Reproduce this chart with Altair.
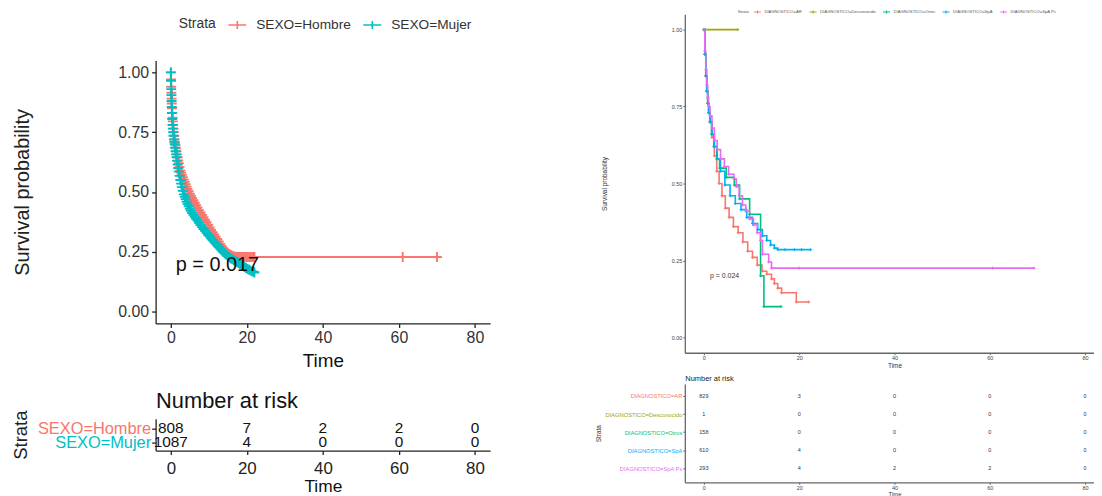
import json
import altair as alt
import pandas as pd

FONT = "Liberation Sans"
W, H = 1094, 488

TICKS = [0, 20, 40, 60, 80]
SURV_TICKS = [0, 0.25, 0.5, 0.75, 1.0]
X_DOMAIN = [-4, 84]
Y_DOMAIN = [-0.05, 1.05]

# ---------------- left panel (SEXO) ----------------
L_STRATA = ["SEXO=Hombre", "SEXO=Mujer"]
L_COLORS = ["#F8766D", "#00BFC4"]
L_T_MUJER = [0, 0.05, 0.1, 0.15, 0.2, 0.25, 0.3, 0.38, 0.45, 0.52,
             0.6, 0.7, 0.8, 0.9, 1.0, 1.12, 1.25, 1.38, 1.5, 1.65,
             1.8, 1.95, 2.1, 2.3, 2.5, 2.7, 2.9, 3.15, 3.4, 3.65,
             3.9, 4.15, 4.4, 4.7, 5.0, 5.3, 5.6, 5.95, 6.3, 6.65,
             7.0, 7.4, 7.8, 8.2, 8.6, 9.0, 9.4, 9.8, 10.2, 10.6,
             11.0, 11.4, 11.8, 12.2, 12.6, 13.0, 13.4, 13.8, 14.2, 14.6,
             15.0, 15.4, 15.8, 16.2, 16.6, 17.0, 17.4, 17.8, 18.2, 18.6,
             19.0, 19.4, 19.8, 20.2, 20.6, 21.0, 21.4, 21.8, 22.0]
L_S_MUJER = [1.00, 0.965, 0.93, 0.905, 0.88, 0.855, 0.83, 0.805, 0.78, 0.765,
             0.75, 0.735, 0.72, 0.71, 0.70, 0.685, 0.67, 0.657, 0.645, 0.63,
             0.615, 0.60, 0.585, 0.567, 0.55, 0.535, 0.52, 0.505, 0.49, 0.48,
             0.47, 0.459, 0.449, 0.44, 0.43, 0.421, 0.412, 0.404, 0.396, 0.388,
             0.38, 0.371, 0.362, 0.353, 0.345, 0.337, 0.329, 0.321, 0.314, 0.306,
             0.299, 0.291, 0.284, 0.277, 0.27, 0.263, 0.256, 0.249, 0.243, 0.237,
             0.231, 0.226, 0.222, 0.218, 0.214, 0.21, 0.207, 0.203, 0.199, 0.195,
             0.19, 0.186, 0.182, 0.178, 0.175, 0.171, 0.168, 0.165, 0.163]
L_T_HOMBRE = [0, 0.05, 0.1, 0.15, 0.2, 0.25, 0.3, 0.38, 0.45, 0.52,
              0.6, 0.7, 0.8, 0.9, 1.0, 1.12, 1.25, 1.38, 1.5, 1.65,
              1.8, 1.95, 2.1, 2.3, 2.5, 2.7, 2.9, 3.15, 3.4, 3.65,
              3.9, 4.15, 4.4, 4.7, 5.0, 5.3, 5.6, 5.95, 6.3, 6.65,
              7.0, 7.4, 7.8, 8.2, 8.6, 9.0, 9.4, 9.8, 10.2, 10.6,
              11.0, 11.4, 11.8, 12.2, 12.6, 13.0, 13.4, 13.8, 14.2, 14.6,
              15.0, 15.4, 15.8, 16.2, 16.6, 17.0, 17.4, 17.8, 18.2, 18.6,
              19.0, 19.4, 19.8, 20.2, 20.6, 21.0, 21.4, 21.8, 22.0, 61.0, 70.0]
L_S_HOMBRE = [1.00, 0.97, 0.94, 0.915, 0.89, 0.87, 0.85, 0.83, 0.81, 0.795,
              0.78, 0.765, 0.75, 0.735, 0.72, 0.707, 0.695, 0.682, 0.67, 0.657,
              0.645, 0.632, 0.62, 0.605, 0.59, 0.581, 0.572, 0.562, 0.552, 0.542,
              0.532, 0.522, 0.513, 0.503, 0.493, 0.484, 0.475, 0.465, 0.455, 0.445,
              0.435, 0.424, 0.414, 0.404, 0.394, 0.384, 0.374, 0.363, 0.352, 0.342,
              0.332, 0.322, 0.313, 0.303, 0.293, 0.283, 0.273, 0.264, 0.256, 0.25,
              0.244, 0.24, 0.236, 0.233, 0.23, 0.229, 0.228, 0.228, 0.228, 0.228,
              0.228, 0.228, 0.228, 0.228, 0.228, 0.228, 0.228, 0.228, 0.228, 0.228, 0.228]
L_RISK_TIMES = [0, 20, 40, 60, 80]
L_RISK_HOMBRE = [808, 7, 2, 2, 0]
L_RISK_MUJER = [1087, 4, 0, 0, 0]
L_ROWS = [2, 1]
L_PVAL = ["p = 0.017"]
L_PVAL_POS = [1.3, 0.195]

# ---------------- right panel (DIAGNOSTICO) ----------------
R_STRATA = ["DIAGNOSTICO=AR", "DIAGNOSTICO=Desconocido", "DIAGNOSTICO=Otros",
            "DIAGNOSTICO=SpA", "DIAGNOSTICO=SpA Ps"]
R_COLORS = ["#F8766D", "#A3A500", "#00BF7D", "#00B0F6", "#E76BF3"]
R_T_AR = [0, 0.2, 0.4, 0.6, 0.8, 1.0, 1.3, 1.7, 2.2, 2.7, 3.2, 3.8, 4.5, 5.3, 6.2, 7.2, 8.2,
          9.2, 10.2, 11.2, 12.2, 13.2, 14.2, 14.8, 15.5, 16.3, 19.4, 22.0]
R_S_AR = [1.0, 0.92, 0.85, 0.80, 0.76, 0.73, 0.70, 0.65, 0.59, 0.54, 0.50, 0.46, 0.42, 0.39,
          0.36, 0.34, 0.31, 0.28, 0.26, 0.235, 0.215, 0.205, 0.19, 0.175, 0.16, 0.145, 0.115, 0.115]
R_T_DESC = [0, 7.1]
R_S_DESC = [1.0, 1.0]
R_T_OTROS = [0, 0.2, 0.4, 0.6, 0.8, 1.0, 1.3, 1.6, 2.1, 2.7, 3.3, 4.7, 6.4, 7.5, 9.6, 11.9,
             12.6, 16.2]
R_S_OTROS = [1.0, 0.92, 0.85, 0.80, 0.76, 0.73, 0.70, 0.66, 0.62, 0.58, 0.55, 0.52, 0.495,
             0.45, 0.40, 0.20, 0.10, 0.10]
R_T_SPA = [0, 0.2, 0.4, 0.6, 0.8, 1.0, 1.3, 1.7, 2.2, 2.8, 3.5, 4.4, 5.5, 6.6, 7.8, 9.0, 10.2,
           11.3, 12.3, 13.2, 14.0, 14.8, 15.5, 17.0, 19.0, 20.5, 22.4]
R_S_SPA = [1.0, 0.92, 0.85, 0.80, 0.76, 0.73, 0.70, 0.66, 0.62, 0.58, 0.54, 0.495, 0.46, 0.435,
           0.415, 0.39, 0.37, 0.35, 0.33, 0.315, 0.30, 0.29, 0.285, 0.285, 0.285, 0.285, 0.285]
R_T_SPAPS = [0, 0.2, 0.4, 0.6, 0.8, 1.0, 1.3, 1.7, 2.2, 2.8, 3.5, 4.3, 5.2, 6.3, 6.8, 7.4, 8.1,
             8.8, 9.6, 10.4, 11.2, 11.9, 12.3, 13.6, 14.2, 20.0, 60.6, 69.3]
R_S_SPAPS = [1.0, 0.93, 0.87, 0.82, 0.78, 0.75, 0.72, 0.68, 0.64, 0.61, 0.58, 0.555, 0.53,
             0.515, 0.49, 0.46, 0.43, 0.41, 0.385, 0.365, 0.34, 0.315, 0.27, 0.245, 0.225,
             0.225, 0.225, 0.225]
R_RISK_TIMES = [0, 20, 40, 60, 80]
R_RISK = [[829, 3, 0, 0, 0], [1, 0, 0, 0, 0], [158, 0, 0, 0, 0], [610, 4, 0, 0, 0],
          [293, 4, 2, 2, 0]]
R_ROWS = [5, 4, 3, 2, 1]
R_PVAL = ["p = 0.024"]
R_PVAL_POS = [1.3, 0.198]

# ---------------- frames ----------------
def km(strata, times, survs):
    assert len(times) == len(survs)
    return pd.DataFrame({"strata": strata, "time": times, "surv": survs})

km_left = pd.concat([km(L_STRATA[0], L_T_HOMBRE, L_S_HOMBRE),
                     km(L_STRATA[1], L_T_MUJER, L_S_MUJER)], ignore_index=True)
km_right = pd.concat([km(R_STRATA[0], R_T_AR, R_S_AR), km(R_STRATA[1], R_T_DESC, R_S_DESC),
                      km(R_STRATA[2], R_T_OTROS, R_S_OTROS), km(R_STRATA[3], R_T_SPA, R_S_SPA),
                      km(R_STRATA[4], R_T_SPAPS, R_S_SPAPS)], ignore_index=True)

risk_left = pd.DataFrame([
    {"strata": s, "row": r, "time": t, "n": n}
    for s, r, vals in zip(L_STRATA, L_ROWS, [L_RISK_HOMBRE, L_RISK_MUJER])
    for t, n in zip(L_RISK_TIMES, vals)])
risk_right = pd.DataFrame([
    {"strata": s, "row": r, "time": t, "n": n}
    for s, r, vals in zip(R_STRATA, R_ROWS, R_RISK)
    for t, n in zip(R_RISK_TIMES, vals)])

pval_left = pd.DataFrame({"t": [L_PVAL_POS[0]], "s": [L_PVAL_POS[1]], "label": L_PVAL})
pval_right = pd.DataFrame({"t": [R_PVAL_POS[0]], "s": [R_PVAL_POS[1]], "label": R_PVAL})

CROSS = "M-1,0L1,0M0,-1L0,1"
KEY = "M-1,0L1,0M0,-0.45L0,0.45"

def sc(domain, rng):
    return alt.Scale(domain=domain, range=rng, nice=False, zero=False)

AX = dict(grid=False, labelFont=FONT, titleFont=FONT, titleFontWeight="normal",
          labelFlush=False, labelOverlap=False)

# ---------------- geometry (relative to chart origin) ----------------
L_XR = [148.7, 485.7]
L_YR = [316, 51]
L_RISK_YR = [444, 412]
L_RISK_YD = [0.4, 2.7]
R_XR = [681.8, 1104.2]
R_YR = [345.5, 4.5]
R_RISK_YR = [476, 377]
R_RISK_YD = [0.23, 5.66]

# ---------------- left layers ----------------
l_axis_x = alt.Axis(orient="bottom", offset=-(H - L_YR[0]), values=TICKS, format="d",
                    title="Time", labelFontSize=16, titleFontSize=19, tickSize=4,
                    tickWidth=1.3, domainWidth=1.3, domainColor="#222", tickColor="#222",
                    labelColor="#333", titleColor="#111", labelPadding=2, titlePadding=6, **AX)
l_axis_y = alt.Axis(orient="left", offset=-L_XR[0], values=SURV_TICKS, format=".2f",
                    title="Survival probability", labelFontSize=16, titleFontSize=20,
                    tickSize=4, tickWidth=1.3, domainWidth=1.3, domainColor="#222",
                    tickColor="#222", labelColor="#333", titleColor="#222", labelPadding=3,
                    titlePadding=86, **AX)

left_legend = alt.Legend(orient="none", legendX=172, legendY=5, direction="horizontal",
                         title="Strata", titleOrient="left", titleFont=FONT, labelFont=FONT,
                         titleFontSize=14, labelFontSize=13.8, titleFontWeight="normal",
                         titleColor="#333", labelColor="#333", symbolType=KEY,
                         symbolSize=324, symbolStrokeWidth=1.6, titlePadding=11,
                         labelOffset=9, columnPadding=8, titleBaseline="middle")

line_l = alt.Chart(km_left).mark_line(interpolate="step-after", strokeWidth=1.8).encode(
    x=alt.X("time:Q", scale=sc(X_DOMAIN, L_XR), axis=l_axis_x),
    y=alt.Y("surv:Q", scale=sc(Y_DOMAIN, L_YR), axis=l_axis_y),
    color=alt.Color("strata:N", scale=alt.Scale(domain=L_STRATA, range=L_COLORS),
                    legend=left_legend),
)
pts_l = alt.Chart(km_left).mark_point(shape=CROSS, filled=False, size=100, strokeWidth=1.9,
                                      opacity=1).encode(
    x=alt.X("time:Q", scale=sc(X_DOMAIN, L_XR), axis=None),
    y=alt.Y("surv:Q", scale=sc(Y_DOMAIN, L_YR), axis=None),
    color=alt.Color("strata:N", scale=alt.Scale(domain=L_STRATA, range=L_COLORS), legend=None),
)
pv_l = alt.Chart(pval_left).mark_text(align="left", baseline="middle", fontSize=20, font=FONT,
                                      color="#111").encode(
    x=alt.X("t:Q", scale=sc(X_DOMAIN, L_XR), axis=None),
    y=alt.Y("s:Q", scale=sc(Y_DOMAIN, L_YR), axis=None),
    text="label:N",
)
l_row_expr = "datum.value == 2 ? " + json.dumps(L_STRATA[0]) + " : " + json.dumps(L_STRATA[1])
risk_l = alt.Chart(risk_left).mark_text(fontSize=15.5, font=FONT, color="#111").encode(
    x=alt.X("time:Q", scale=sc(X_DOMAIN, L_XR),
            axis=alt.Axis(orient="bottom", offset=-(H - L_RISK_YR[0]), values=TICKS, format="d",
                          title="Time", labelFontSize=17, titleFontSize=17.5, tickSize=4,
                          tickWidth=1.3, domainWidth=1.3, domainColor="#222", tickColor="#222",
                          labelColor="#222", titleColor="#111", labelPadding=6,
                          titlePadding=1, **AX)),
    y=alt.Y("row:Q", scale=sc(L_RISK_YD, L_RISK_YR),
            axis=alt.Axis(orient="left", offset=-L_XR[0], values=L_ROWS, labelExpr=l_row_expr,
                          labelColor={"condition": {"test": "datum.value == 2",
                                                    "value": L_COLORS[0]},
                                      "value": L_COLORS[1]},
                          title="Strata", labelFontSize=16.5, titleFontSize=18.5, tickSize=4,
                          tickWidth=1.3, domainWidth=1.3, domainColor="#222", tickColor="#222",
                          titleColor="#222", labelPadding=1, titlePadding=7, **AX)),
    text="n:Q",
)
risk_title_l = alt.Chart(risk_left).mark_text(opacity=0).encode(
    x=alt.X("time:Q", scale=sc(X_DOMAIN, L_XR),
            axis=alt.Axis(orient="top", offset=-L_RISK_YR[1], title="Number at risk",
                          labels=False, ticks=False, domain=False, titleAnchor="start",
                          titleFontSize=22, titleColor="#111", titlePadding=6, **AX)),
    y=alt.Y("row:Q", scale=sc(L_RISK_YD, L_RISK_YR), axis=None),
    text="n:Q",
)

# ---------------- right layers ----------------
r_axis_x = alt.Axis(orient="bottom", offset=-(H - R_YR[0]), values=TICKS, format="d",
                    title="Time", labelFontSize=5.5, titleFontSize=6.5, tickSize=2,
                    tickWidth=1, domainWidth=1.3, domainColor="#666", tickColor="#666",
                    labelColor="#444", titleColor="#333", labelPadding=1, titlePadding=1, **AX)
r_axis_y = alt.Axis(orient="left", offset=-R_XR[0], values=SURV_TICKS, format=".2f",
                    title="Survival probability", labelFontSize=5.5, titleFontSize=6.5,
                    tickSize=2, tickWidth=1, domainWidth=1.3, domainColor="#666",
                    tickColor="#666", labelColor="#444", titleColor="#333", labelPadding=1,
                    titlePadding=64, **AX)
right_legend = alt.Legend(orient="none", legendX=735, legendY=-2, direction="horizontal",
                          title="Strata", titleOrient="left", titleFont=FONT, labelFont=FONT,
                          titleFontSize=4.2, labelFontSize=4.2, titleFontWeight="normal",
                          titleColor="#555", labelColor="#555", symbolType=KEY,
                          symbolSize=49, symbolStrokeWidth=1, titlePadding=4,
                          labelOffset=3, columnPadding=5, titleBaseline="middle")

line_r = alt.Chart(km_right).mark_line(interpolate="step-after", strokeWidth=1.6).encode(
    x=alt.X("time:Q", scale=sc(X_DOMAIN, R_XR), axis=r_axis_x),
    y=alt.Y("surv:Q", scale=sc(Y_DOMAIN, R_YR), axis=r_axis_y),
    color=alt.Color("strata:N", scale=alt.Scale(domain=R_STRATA, range=R_COLORS),
                    legend=right_legend),
)
pts_r = alt.Chart(km_right).mark_point(shape=CROSS, filled=False, size=9, strokeWidth=1,
                                       opacity=1).encode(
    x=alt.X("time:Q", scale=sc(X_DOMAIN, R_XR), axis=None),
    y=alt.Y("surv:Q", scale=sc(Y_DOMAIN, R_YR), axis=None),
    color=alt.Color("strata:N", scale=alt.Scale(domain=R_STRATA, range=R_COLORS), legend=None),
)
pv_r = alt.Chart(pval_right).mark_text(align="left", baseline="middle", fontSize=7, font=FONT,
                                       color="#333").encode(
    x=alt.X("t:Q", scale=sc(X_DOMAIN, R_XR), axis=None),
    y=alt.Y("s:Q", scale=sc(Y_DOMAIN, R_YR), axis=None),
    text="label:N",
)
r_names = [""] * (max(R_ROWS) + 1)
for s, r in zip(R_STRATA, R_ROWS):
    r_names[r] = s
r_row_expr = json.dumps(r_names) + "[datum.value]"
r_label_color = {"condition": [{"test": f"datum.value == {r}", "value": c}
                               for r, c in zip(R_ROWS, R_COLORS)],
                 "value": "#444"}
risk_r = alt.Chart(risk_right).mark_text(fontSize=5.5, font=FONT, color="#333").encode(
    x=alt.X("time:Q", scale=sc(X_DOMAIN, R_XR),
            axis=alt.Axis(orient="bottom", offset=-(H - R_RISK_YR[0]), values=TICKS, format="d",
                          title="Time", labelFontSize=5.5, titleFontSize=6, tickSize=2,
                          tickWidth=1, domainWidth=1.3, domainColor="#666", tickColor="#666",
                          labelColor="#444", titleColor="#333", labelPadding=1,
                          titlePadding=0, **AX)),
    y=alt.Y("row:Q", scale=sc(R_RISK_YD, R_RISK_YR),
            axis=alt.Axis(orient="left", offset=-R_XR[0], values=R_ROWS, labelExpr=r_row_expr,
                          labelColor=r_label_color, title="Strata", labelFontSize=5.8,
                          titleFontSize=6.5, tickSize=2, tickWidth=1, domainWidth=1.3,
                          domainColor="#666", tickColor="#666", titleColor="#333",
                          labelPadding=1, titlePadding=3, **AX)),
    text="n:Q",
)
risk_title_r = alt.Chart(risk_right).mark_text(opacity=0).encode(
    x=alt.X("time:Q", scale=sc(X_DOMAIN, R_XR),
            axis=alt.Axis(orient="top", offset=-R_RISK_YR[1], title="Number at risk",
                          labels=False, ticks=False, domain=False, titleAnchor="start",
                          titleFontSize=7.5, titleColor="#222", titlePadding=2, **AX)),
    y=alt.Y("row:Q", scale=sc(R_RISK_YD, R_RISK_YR), axis=None),
    text="n:Q",
)

chart = alt.layer(
    line_l, pts_l, pv_l, risk_l, risk_title_l,
    line_r, pts_r, pv_r, risk_r, risk_title_r,
).resolve_scale(
    x="independent", y="independent", color="independent"
).properties(
    width=W, height=H, padding=0, autosize=alt.AutoSizeParams(type="none"),
    background="white",
).configure_view(stroke=None)

chart.save("out.html", embed_options={"renderer": "svg", "actions": False})
